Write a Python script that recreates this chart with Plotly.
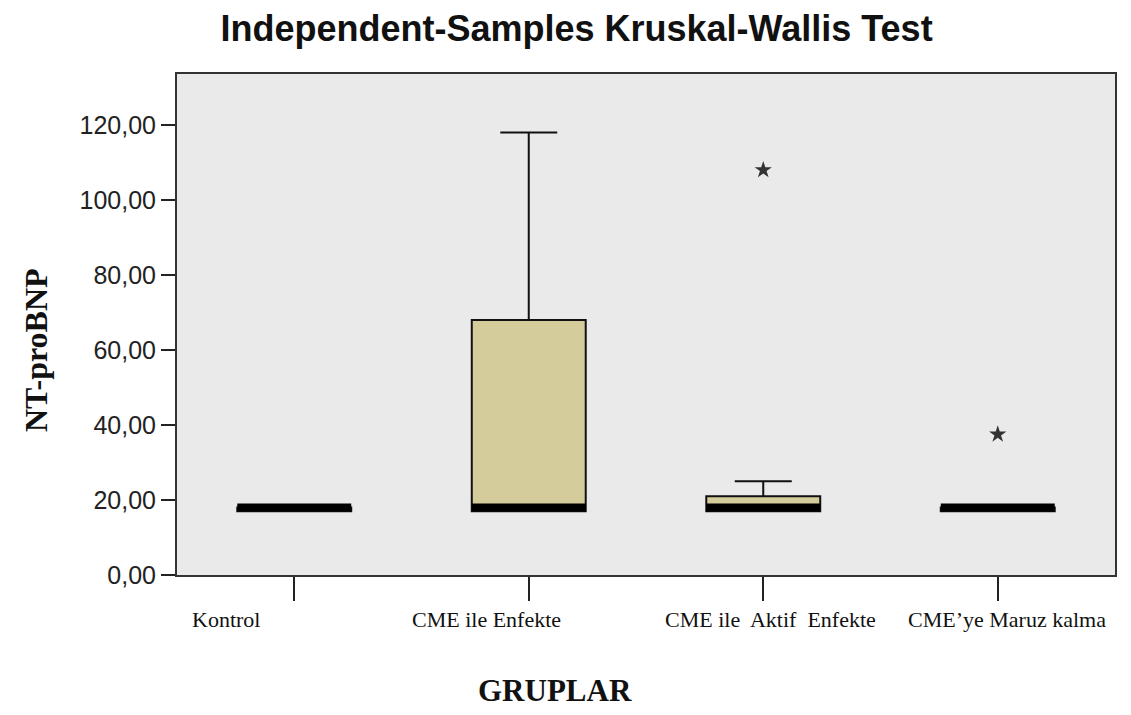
import plotly.graph_objects as go

categories = ["Kontrol", "CME ile Enfekte", "CME ile  Aktif  Enfekte", "CME\u2019ye Maruz kalma"]
q1 = [17, 17, 17, 17]
median = [18, 18, 18, 18]
q3 = [18, 68, 21, 18]
lower_fence = [17, 17, 17, 17]
upper_fence = [18, 118, 25, 18]
outlier_group = [2, 3]
outlier_value = [108, 37.5]
y_ticks = [0, 20, 40, 60, 80, 100, 120]
y_tick_text = ["0,00", "20,00", "40,00", "60,00", "80,00", "100,00", "120,00"]
label_offset = [-0.29, -0.18, 0.03, 0.04]

xs = list(range(len(categories)))
box_w = 0.486

W, H = 1131, 715
ml, mr, mt, mb = 169, 24, 66, 148
pw, ph = W - ml - mr, H - mt - mb


def px_to_paper(px, py):
    # page pixel position (page has an 8px body margin) -> paper fraction
    return (px - 8 - ml) / pw, 1 - (py - 8 - mt) / ph


fig = go.Figure()
fig.add_trace(go.Box(
    x=xs, q1=q1, median=median, q3=q3,
    lowerfence=lower_fence, upperfence=upper_fence,
    width=box_w, whiskerwidth=0.5,
    fillcolor="#d4cc9b", line=dict(color="#111111", width=2),
    boxpoints=False, showlegend=False, hoverinfo="skip",
))

mx, my = [], []
for i, m in zip(xs, median):
    mx += [i - box_w / 2, i + box_w / 2, None]
    my += [m, m, None]
fig.add_trace(go.Scatter(x=mx, y=my, mode="lines",
                         line=dict(color="#000000", width=8),
                         showlegend=False, hoverinfo="skip"))

fig.add_trace(go.Scatter(x=outlier_group, y=outlier_value, mode="markers",
                         marker=dict(symbol="star", size=13, color="#333333",
                                     line=dict(width=0)),
                         showlegend=False))

for i, (c, off) in enumerate(zip(categories, label_offset)):
    fig.add_annotation(x=i + off, y=0, xref="x", yref="paper",
                       xanchor="center", yanchor="top",
                       yshift=-30, text=c, showarrow=False,
                       font=dict(family="Liberation Serif", size=22, color="#111111"))

gx, gy = px_to_paper(555, 690)
fig.add_annotation(x=gx, y=gy, xref="paper", yref="paper",
                   xanchor="center", yanchor="middle",
                   text="<b>GRUPLAR</b>", showarrow=False,
                   font=dict(family="Liberation Serif", size=31, color="#111111"))
nx, ny = px_to_paper(36, 350)
fig.add_annotation(x=nx, y=ny, xref="paper", yref="paper",
                   xanchor="center", yanchor="middle",
                   text="<b>NT-proBNP</b>", showarrow=False, textangle=-90,
                   font=dict(family="Liberation Serif", size=32, color="#111111"))

fig.update_layout(
    width=W, height=H,
    margin=dict(l=ml, r=mr, t=mt, b=mb),
    paper_bgcolor="white", plot_bgcolor="#eaeaea",
    title=dict(text="<b>Independent-Samples Kruskal-Wallis Test</b>",
               x=0.5027, xanchor="center", y=1 - 20 / H, yanchor="middle",
               font=dict(family="Liberation Sans", size=36, color="#111111")),
    xaxis=dict(range=[-0.5, 3.5], tickvals=xs, ticktext=[""] * len(xs),
               ticks="outside", ticklen=24, tickwidth=2, tickcolor="#222222",
               showline=True, linecolor="#333333", linewidth=2, mirror=True,
               showgrid=False, zeroline=False),
    yaxis=dict(range=[0, 133.6], tickvals=y_ticks, ticktext=y_tick_text,
               ticks="outside", ticklen=14, tickwidth=2, tickcolor="#222222",
               showline=True, linecolor="#333333", linewidth=2, mirror=True,
               showgrid=False, zeroline=False,
               tickfont=dict(family="Liberation Sans", size=25, color="#222222")),
)

fig.write_html("out.html")
